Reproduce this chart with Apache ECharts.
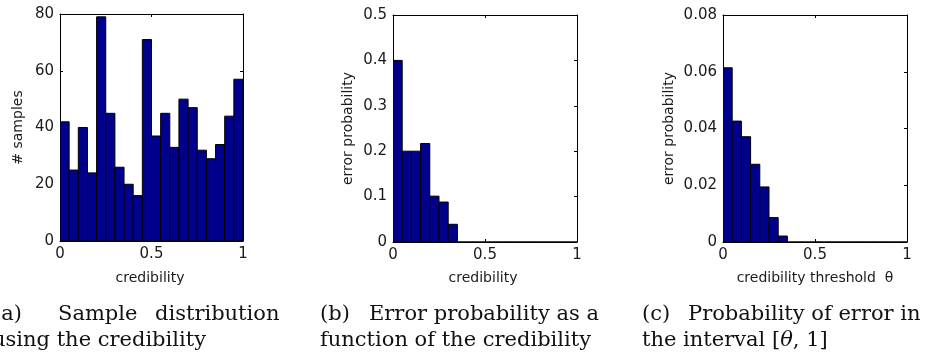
<!DOCTYPE html>
<html>
<head>
<meta charset="utf-8">
<script src="https://cdn.jsdelivr.net/npm/echarts@6/dist/echarts.min.js"></script>
<style>
  html, body { margin: 0; padding: 0; background: #fff; }
  #chart { width: 934px; height: 358px; }
</style>
</head>
<body>
<div id="chart"></div>
<script>
// Histogram bins shared by all three panels (left edge / right edge)
const binStarts = [0, 0.05, 0.10, 0.15, 0.20, 0.25, 0.30, 0.35, 0.40, 0.45,
                   0.50, 0.55, 0.60, 0.65, 0.70, 0.75, 0.80, 0.85, 0.90, 0.95];
const binEnds   = [0.05, 0.10, 0.15, 0.20, 0.25, 0.30, 0.35, 0.40, 0.45, 0.50,
                   0.55, 0.60, 0.65, 0.70, 0.75, 0.80, 0.85, 0.90, 0.95, 1.00];

// (a) number of samples per credibility bin
const sampleCounts = [42, 25, 40, 24, 79, 45, 26, 20, 16, 71,
                      37, 45, 33, 50, 47, 32, 29, 34, 44, 57];
// (b) error probability per credibility bin
const errorProb = [0.40, 0.20, 0.20, 0.217, 0.101, 0.088, 0.039, 0, 0, 0,
                   0, 0, 0, 0, 0, 0, 0, 0, 0, 0];
// (c) error probability within [theta, 1]
const errorAbove = [0.0614, 0.0426, 0.0371, 0.0274, 0.0194, 0.0086, 0.0021, 0, 0, 0,
                    0, 0, 0, 0, 0, 0, 0, 0, 0, 0];

const xTicks = { min: 0, max: 1, interval: 0.5 };
const yRanges = [
  { min: 0, max: 80, interval: 20 },
  { min: 0, max: 0.5, interval: 0.1 },
  { min: 0, max: 0.08, interval: 0.02 }
];
const yLabels = ['# samples', 'error probability', 'error probability'];
const xLabels = ['credibility', 'credibility', 'credibility threshold  \u03B8'];

const grids = [
  { left: 60,  top: 14, width: 183, height: 227 },
  { left: 393, top: 15, width: 184, height: 227 },
  { left: 723, top: 15, width: 184, height: 227 }
];

const TICK_FONT = 'DejaVu Sans';
const INK = '#1a1a1a';
const BAR_FILL = '#00008c';

function makeData(values) {
  return values.map((v, i) => [binStarts[i], binEnds[i], v]);
}

const xAxes = [], yAxes = [], series = [];
grids.forEach((g, i) => {
  // bottom x axis with labels
  xAxes.push({
    type: 'value', gridIndex: i, position: 'bottom',
    min: xTicks.min, max: xTicks.max, interval: xTicks.interval,
    axisLine: { show: true, onZero: false, lineStyle: { color: '#000', width: 1 } },
    axisTick: { show: true, inside: true, length: 3, lineStyle: { color: '#000' } },
    axisLabel: { show: true, margin: 6, color: INK, fontFamily: TICK_FONT, fontSize: 15,
                 formatter: v => String(v) },
    splitLine: { show: false }
  });
  // top x axis (box edge with inward ticks)
  xAxes.push({
    type: 'value', gridIndex: i, position: 'top',
    min: xTicks.min, max: xTicks.max, interval: xTicks.interval,
    axisLine: { show: true, onZero: false, lineStyle: { color: '#000', width: 1 } },
    axisTick: { show: true, inside: true, length: 3, lineStyle: { color: '#000' } },
    axisLabel: { show: false }, splitLine: { show: false }
  });
  const r = yRanges[i];
  yAxes.push({
    type: 'value', gridIndex: i, position: 'left',
    min: r.min, max: r.max, interval: r.interval,
    axisLine: { show: true, onZero: false, lineStyle: { color: '#000', width: 1 } },
    axisTick: { show: true, inside: true, length: 3, lineStyle: { color: '#000' } },
    axisLabel: { show: true, margin: 6, color: INK, fontFamily: TICK_FONT, fontSize: 15,
                 formatter: v => String(+v.toFixed(4)) },
    splitLine: { show: false }
  });
  yAxes.push({
    type: 'value', gridIndex: i, position: 'right',
    min: r.min, max: r.max, interval: r.interval,
    axisLine: { show: true, onZero: false, lineStyle: { color: '#000', width: 1 } },
    axisTick: { show: true, inside: true, length: 3, lineStyle: { color: '#000' } },
    axisLabel: { show: false }, splitLine: { show: false }
  });
});

const panelValues = [sampleCounts, errorProb, errorAbove];
panelValues.forEach((vals, i) => {
  series.push({
    type: 'custom',
    xAxisIndex: i * 2,
    yAxisIndex: i * 2,
    data: makeData(vals),
    encode: { x: [0, 1], y: 2 },
    clip: true,
    renderItem: function (params, api) {
      const p0 = api.coord([api.value(0), api.value(2)]);
      const p1 = api.coord([api.value(1), 0]);
      return {
        type: 'rect',
        shape: { x: p0[0], y: p0[1], width: p1[0] - p0[0], height: p1[1] - p0[1] },
        style: { fill: BAR_FILL, stroke: '#000', lineWidth: 1 }
      };
    }
  });
});

// axis titles
const graphic = [];
grids.forEach((g, i) => {
  graphic.push({
    type: 'text',
    x: [18.5, 348.5, 669.5][i], y: g.top + g.height / 2,
    rotation: Math.PI / 2,
    style: { text: yLabels[i], fill: INK, font: '14px "DejaVu Sans"',
             textAlign: 'center', textVerticalAlign: 'middle' }
  });
  graphic.push({
    type: 'text',
    x: [150, 483, 815][i], y: 278,
    style: { text: xLabels[i], fill: INK, font: '14px "DejaVu Sans"',
             textAlign: 'center', textVerticalAlign: 'middle' }
  });
});

// sub-figure captions
const CAP_FONT = '21px "DejaVu Serif"';
const captions = [
  { text: '(a)', x: -7, y: 315 },
  { text: 'Sample', x: 58, y: 315 },
  { text: 'distribution', x: 155, y: 315 },
  { text: 'using the credibility', x: -8, y: 341 },
  { text: '(b)', x: 320, y: 315 },
  { text: 'Error probability as a', x: 369, y: 315 },
  { text: 'function of the credibility', x: 320, y: 341 },
  { text: '(c)', x: 642, y: 315 },
  { text: 'Probability of error in', x: 688, y: 315 },
  { text: 'the interval [{it|\u03B8}, 1]', x: 642, y: 341 }
];
captions.forEach(c => {
  graphic.push({
    type: 'text', x: c.x, y: c.y,
    style: { text: c.text, fill: '#111', font: CAP_FONT,
             textAlign: 'left', textVerticalAlign: 'middle',
             rich: { it: { font: 'italic 21px "DejaVu Serif"', fill: '#111' } } }
  });
});

const chart = echarts.init(document.getElementById('chart'), null, { renderer: 'canvas' });
chart.setOption({
  animation: false,
  backgroundColor: '#fff',
  grid: grids,
  xAxis: xAxes,
  yAxis: yAxes,
  series: series,
  graphic: graphic
});
</script>
</body>
</html>
